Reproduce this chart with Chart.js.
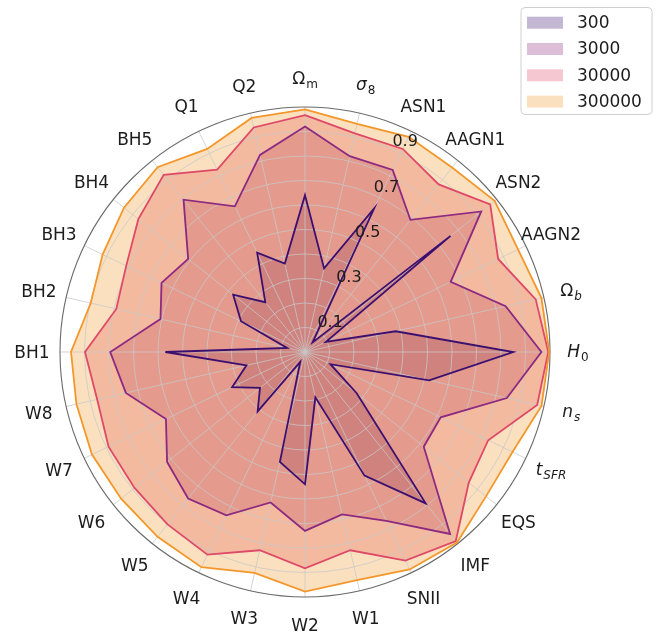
<!DOCTYPE html>
<html>
<head>
<meta charset="utf-8">
<script src="https://cdn.jsdelivr.net/npm/chart.js@4.4.1/dist/chart.umd.min.js"></script>
<style>
  html, body { margin: 0; padding: 0; background: #ffffff; }
  canvas { display: block; }
</style>
</head>
<body>
<canvas id="radar" width="657" height="633"></canvas>
<script>
// Axis labels, clockwise from the top; "_" separates a subscript
const categories = ['Ω_m', 'σ_8', 'ASN1', 'AAGN1', 'ASN2', 'AAGN2', 'Ω_b', 'H_0', 'n_s', 't_SFR',
  'EQS', 'IMF', 'SNII', 'W1', 'W2', 'W3', 'W4', 'W5', 'W6', 'W7', 'W8',
  'BH1', 'BH2', 'BH3', 'BH4', 'BH5', 'Q1', 'Q2'];
// [base italic, subscript italic] for the math-style labels
const italicParts = { 'σ_8': [true, false], 'Ω_b': [false, true], 'H_0': [true, false],
  'n_s': [true, true], 't_SFR': [true, true] };

const seriesNames = ['300', '3000', '30000', '300000'];
const values300 = [0.64, 0.35, 0.65, 0.05, 0.76, 0.095, 0.38, 0.85, 0.52, 0.115,
  0.27, 0.79, 0.56, 0.19, 0.54, 0.46, 0.045, 0.31, 0.235, 0.33, 0.245,
  0.57, 0.075, 0.29, 0.375, 0.26, 0.45, 0.37];
const values3000 = [0.92, 0.82, 0.825, 0.69, 0.92, 0.66, 0.84, 0.965, 0.845, 0.615,
  0.62, 0.95, 0.765, 0.68, 0.73, 0.63, 0.74, 0.765, 0.72, 0.63, 0.75,
  0.795, 0.605, 0.65, 0.61, 0.795, 0.66, 0.825];
const values30000 = [0.967, 0.915, 0.92, 0.875, 0.967, 0.875, 0.966, 0.993, 0.972, 0.83,
  0.855, 0.987, 0.945, 0.83, 0.883, 0.83, 0.918, 0.9, 0.89, 0.89, 0.87,
  0.898, 0.79, 0.81, 0.87, 0.925, 0.826, 0.94];
const values300000 = [0.99, 0.955, 0.975, 0.963, 0.99, 0.965, 0.99, 0.997, 0.99, 0.94,
  0.945, 0.995, 0.985, 0.955, 0.978, 0.925, 0.975, 0.965, 0.96, 0.965, 0.957,
  0.955, 0.897, 0.917, 0.945, 0.965, 0.92, 0.98];
const radialTickLabels = [0.1, 0.3, 0.5, 0.7, 0.9];

const seriesValues = [values300, values3000, values30000, values300000];
const lineColors = ['#3b0f70', '#8c2981', '#de4968', '#f3972b'];
const fillColors = ['rgba(59,15,112,0.3)', 'rgba(140,41,129,0.3)', 'rgba(222,73,104,0.3)', 'rgba(243,151,43,0.3)'];

const FONT = '"DejaVu Sans", "Liberation Sans", sans-serif';
const TEXT_COLOR = '#1c1c1c';

function splitLabel(lbl) {
  const parts = lbl.split('_');
  return { base: parts[0], sub: parts[1] || '', it: italicParts[lbl] || [false, false] };
}

// Grid rings and spokes drawn over the fills but under the outlines
const gridOverlay = {
  id: 'gridOverlay',
  beforeDatasetsDraw(chart) {
    const r = chart.scales.r;
    const ctx = chart.ctx;
    ctx.save();
    ctx.strokeStyle = 'rgba(200,200,200,0.85)';
    ctx.lineWidth = 0.9;
    r.ticks.forEach(t => {
      if (t.value <= 0 || t.value >= 1) return;
      ctx.beginPath();
      ctx.arc(r.xCenter, r.yCenter, r.getDistanceFromCenterForValue(t.value), 0, Math.PI * 2);
      ctx.stroke();
    });
    for (let i = 0; i < categories.length; i++) {
      const p = r.getPointPositionForValue(i, 1);
      ctx.beginPath();
      ctx.moveTo(r.xCenter, r.yCenter);
      ctx.lineTo(p.x, p.y);
      ctx.stroke();
    }
    ctx.strokeStyle = '#6b6b6b';
    ctx.lineWidth = 1.1;
    ctx.beginPath();
    ctx.arc(r.xCenter, r.yCenter, r.getDistanceFromCenterForValue(1), 0, Math.PI * 2);
    ctx.stroke();
    ctx.restore();
  }
};

// Radial tick labels along the 22.5 degree ray, plus the axis labels
const labelPlugin = {
  id: 'labelPlugin',
  afterDatasetsDraw(chart) {
    const r = chart.scales.r;
    const ctx = chart.ctx;
    ctx.save();
    ctx.fillStyle = TEXT_COLOR;
    ctx.font = '16px ' + FONT;
    ctx.textAlign = 'left';
    ctx.textBaseline = 'alphabetic';
    const a = 22.5 * Math.PI / 180;
    radialTickLabels.forEach(v => {
      const d = r.getDistanceFromCenterForValue(v);
      const x = r.xCenter + d * Math.sin(a);
      const y = r.yCenter - d * Math.cos(a);
      ctx.fillText(v.toFixed(1), x + 3, y - 2);
    });

    const fs = 17, subFs = 12;
    categories.forEach((lbl, i) => {
      const p = r.getPointPosition(i, r.drawingArea + 28);
      const { base, sub, it } = splitLabel(lbl);
      const baseFont = (it[0] ? 'italic ' : '') + fs + 'px ' + FONT;
      const subFont = (it[1] ? 'italic ' : '') + subFs + 'px ' + FONT;
      ctx.font = baseFont;
      const wb = ctx.measureText(base).width;
      let ws = 0;
      if (sub) { ctx.font = subFont; ws = ctx.measureText(sub).width + 1; }
      const x0 = p.x - (wb + ws) / 2;
      const yb = p.y + (sub ? 4.5 : 6);
      ctx.textAlign = 'left';
      ctx.font = baseFont;
      ctx.fillText(base, x0, yb);
      if (sub) {
        ctx.font = subFont;
        ctx.fillText(sub, x0 + wb + 1, yb + 4);
      }
    });
    ctx.restore();
  }
};

// Legend box in the top-right corner
const legendPlugin = {
  id: 'legendBox',
  afterDraw(chart) {
    const ctx = chart.ctx;
    ctx.save();
    const bx = 521, by = 7.5, bw = 131, bh = 107, rad = 4;
    ctx.beginPath();
    ctx.moveTo(bx + rad, by);
    ctx.arcTo(bx + bw, by, bx + bw, by + bh, rad);
    ctx.arcTo(bx + bw, by + bh, bx, by + bh, rad);
    ctx.arcTo(bx, by + bh, bx, by, rad);
    ctx.arcTo(bx, by, bx + bw, by, rad);
    ctx.closePath();
    ctx.fillStyle = 'rgba(255,255,255,0.8)';
    ctx.fill();
    ctx.strokeStyle = '#d0d0d0';
    ctx.lineWidth = 1;
    ctx.stroke();
    ctx.font = '17px ' + FONT;
    ctx.textBaseline = 'middle';
    ctx.textAlign = 'left';
    chart.data.datasets.forEach((ds, i) => {
      const cy = 22.7 + i * 26.3;
      ctx.fillStyle = ds.backgroundColor;
      ctx.fillRect(527, cy - 6, 36, 12);
      ctx.fillStyle = TEXT_COLOR;
      ctx.fillText(ds.label, 577, cy + 1);
    });
    ctx.restore();
  }
};

const datasets = seriesNames.map((name, i) => ({
  label: name,
  data: seriesValues[i],
  borderColor: lineColors[i],
  backgroundColor: fillColors[i],
  borderWidth: 1.8,
  fill: true,
  pointRadius: 0,
  pointHoverRadius: 0,
  tension: 0,
  order: seriesNames.length - i
}));

new Chart(document.getElementById('radar'), {
  type: 'radar',
  data: { labels: categories.map(l => l.replace('_', '')), datasets },
  options: {
    responsive: false,
    animation: false,
    layout: { padding: { left: 60, right: 107, top: 107, bottom: 36 } },
    plugins: {
      legend: { display: false },
      tooltip: { enabled: false },
      filler: { drawTime: 'beforeDatasetsDraw', propagate: false }
    },
    scales: {
      r: {
        min: 0,
        max: 1,
        ticks: { display: false, stepSize: 0.1 },
        grid: { display: false },
        angleLines: { display: false },
        pointLabels: { display: false }
      }
    }
  },
  plugins: [gridOverlay, labelPlugin, legendPlugin]
});
</script>
</body>
</html>
